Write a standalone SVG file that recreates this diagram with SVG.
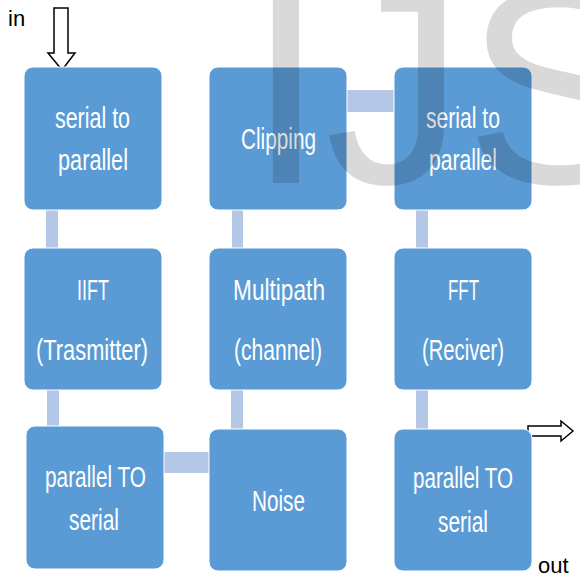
<svg xmlns="http://www.w3.org/2000/svg" width="580" height="577" viewBox="0 0 580 577">
<style>
.box{fill:#5b9bd5;stroke:#ffffff;stroke-width:1}
.lbl{font-family:"Liberation Sans",Arial,sans-serif;font-size:30px;fill:#ffffff;text-anchor:middle}
.conn{fill:#b4c7e7}
.io{font-family:"Liberation Sans",Arial,sans-serif;font-size:22px;fill:#000000}
.arr{fill:#ffffff;stroke:#000000;stroke-width:1.5;stroke-linejoin:miter}
.wm{font-family:"Liberation Sans",Arial,sans-serif;font-size:280px;fill:#000000;fill-opacity:0.15}
</style>
<rect width="580" height="577" fill="#ffffff"/>
<g id="connectors">
<rect class="conn" x="46" y="210" width="12" height="38"/>
<rect class="conn" x="232" y="210" width="11" height="38"/>
<rect class="conn" x="416" y="210" width="12" height="38"/>
<rect class="conn" x="47" y="390" width="12" height="36"/>
<rect class="conn" x="231" y="390" width="12" height="39"/>
<rect class="conn" x="416" y="390" width="12" height="39"/>
<rect class="conn" x="347" y="90" width="47" height="22"/>
<rect class="conn" x="164" y="452" width="45" height="21"/>
<polygon id="arrow-in" class="arr" points="54,8 68,8 68,53 75,53 62,70 48,53 54,53"/>
<polygon id="arrow-out" class="arr" points="528,426 561,426 561,421 573,431 561,441 561,436 528,436"/>
</g>
<g id="n1"><rect class="box" x="24" y="67" width="138" height="143" rx="9"/>
<text class="lbl" x="92.5" y="128" textLength="75" lengthAdjust="spacingAndGlyphs">serial to</text>
<text class="lbl" x="93" y="170" textLength="70" lengthAdjust="spacingAndGlyphs">parallel</text></g>
<g id="n2"><rect class="box" x="209" y="67" width="138" height="143" rx="9"/>
<text class="lbl" x="278.5" y="149" textLength="75" lengthAdjust="spacingAndGlyphs">Clipping</text></g>
<g id="n3"><rect class="box" x="394" y="67" width="138" height="143" rx="9"/>
<text class="lbl" x="463" y="128" textLength="74" lengthAdjust="spacingAndGlyphs">serial to</text>
<text class="lbl" x="463" y="170" textLength="68" lengthAdjust="spacingAndGlyphs">parallel</text></g>
<g id="n4"><rect class="box" x="24" y="248" width="138" height="142" rx="9"/>
<text class="lbl" x="93" y="300" textLength="32" lengthAdjust="spacingAndGlyphs">IIFT</text>
<text class="lbl" x="92" y="360" textLength="112" lengthAdjust="spacingAndGlyphs">(Trasmitter)</text></g>
<g id="n5"><rect class="box" x="209" y="248" width="138" height="142" rx="9"/>
<text class="lbl" x="279" y="300" textLength="92" lengthAdjust="spacingAndGlyphs">Multipath</text>
<text class="lbl" x="278" y="360" textLength="88" lengthAdjust="spacingAndGlyphs">(channel)</text></g>
<g id="n6"><rect class="box" x="394" y="248" width="138" height="142" rx="9"/>
<text class="lbl" x="463.5" y="300" textLength="31" lengthAdjust="spacingAndGlyphs">FFT</text>
<text class="lbl" x="463" y="360" textLength="82" lengthAdjust="spacingAndGlyphs">(Reciver)</text></g>
<g id="n7"><rect class="box" x="26" y="426" width="138" height="143" rx="9"/>
<text class="lbl" x="95.5" y="487" textLength="101" lengthAdjust="spacingAndGlyphs">parallel TO</text>
<text class="lbl" x="94" y="530" textLength="50" lengthAdjust="spacingAndGlyphs">serial</text></g>
<g id="n8"><rect class="box" x="209" y="429" width="138" height="142" rx="9"/>
<text class="lbl" x="278.5" y="511" textLength="53" lengthAdjust="spacingAndGlyphs">Noise</text></g>
<g id="n9"><rect class="box" x="394" y="429" width="138" height="142" rx="9"/>
<text class="lbl" x="463" y="488" textLength="100" lengthAdjust="spacingAndGlyphs">parallel TO</text>
<text class="lbl" x="463" y="532" textLength="50" lengthAdjust="spacingAndGlyphs">serial</text></g>
<text class="io" x="8" y="26">in</text>
<text class="io" x="538" y="573" font-size="24">out</text>
<text class="wm" x="247" y="183">IJS</text>
</svg>
